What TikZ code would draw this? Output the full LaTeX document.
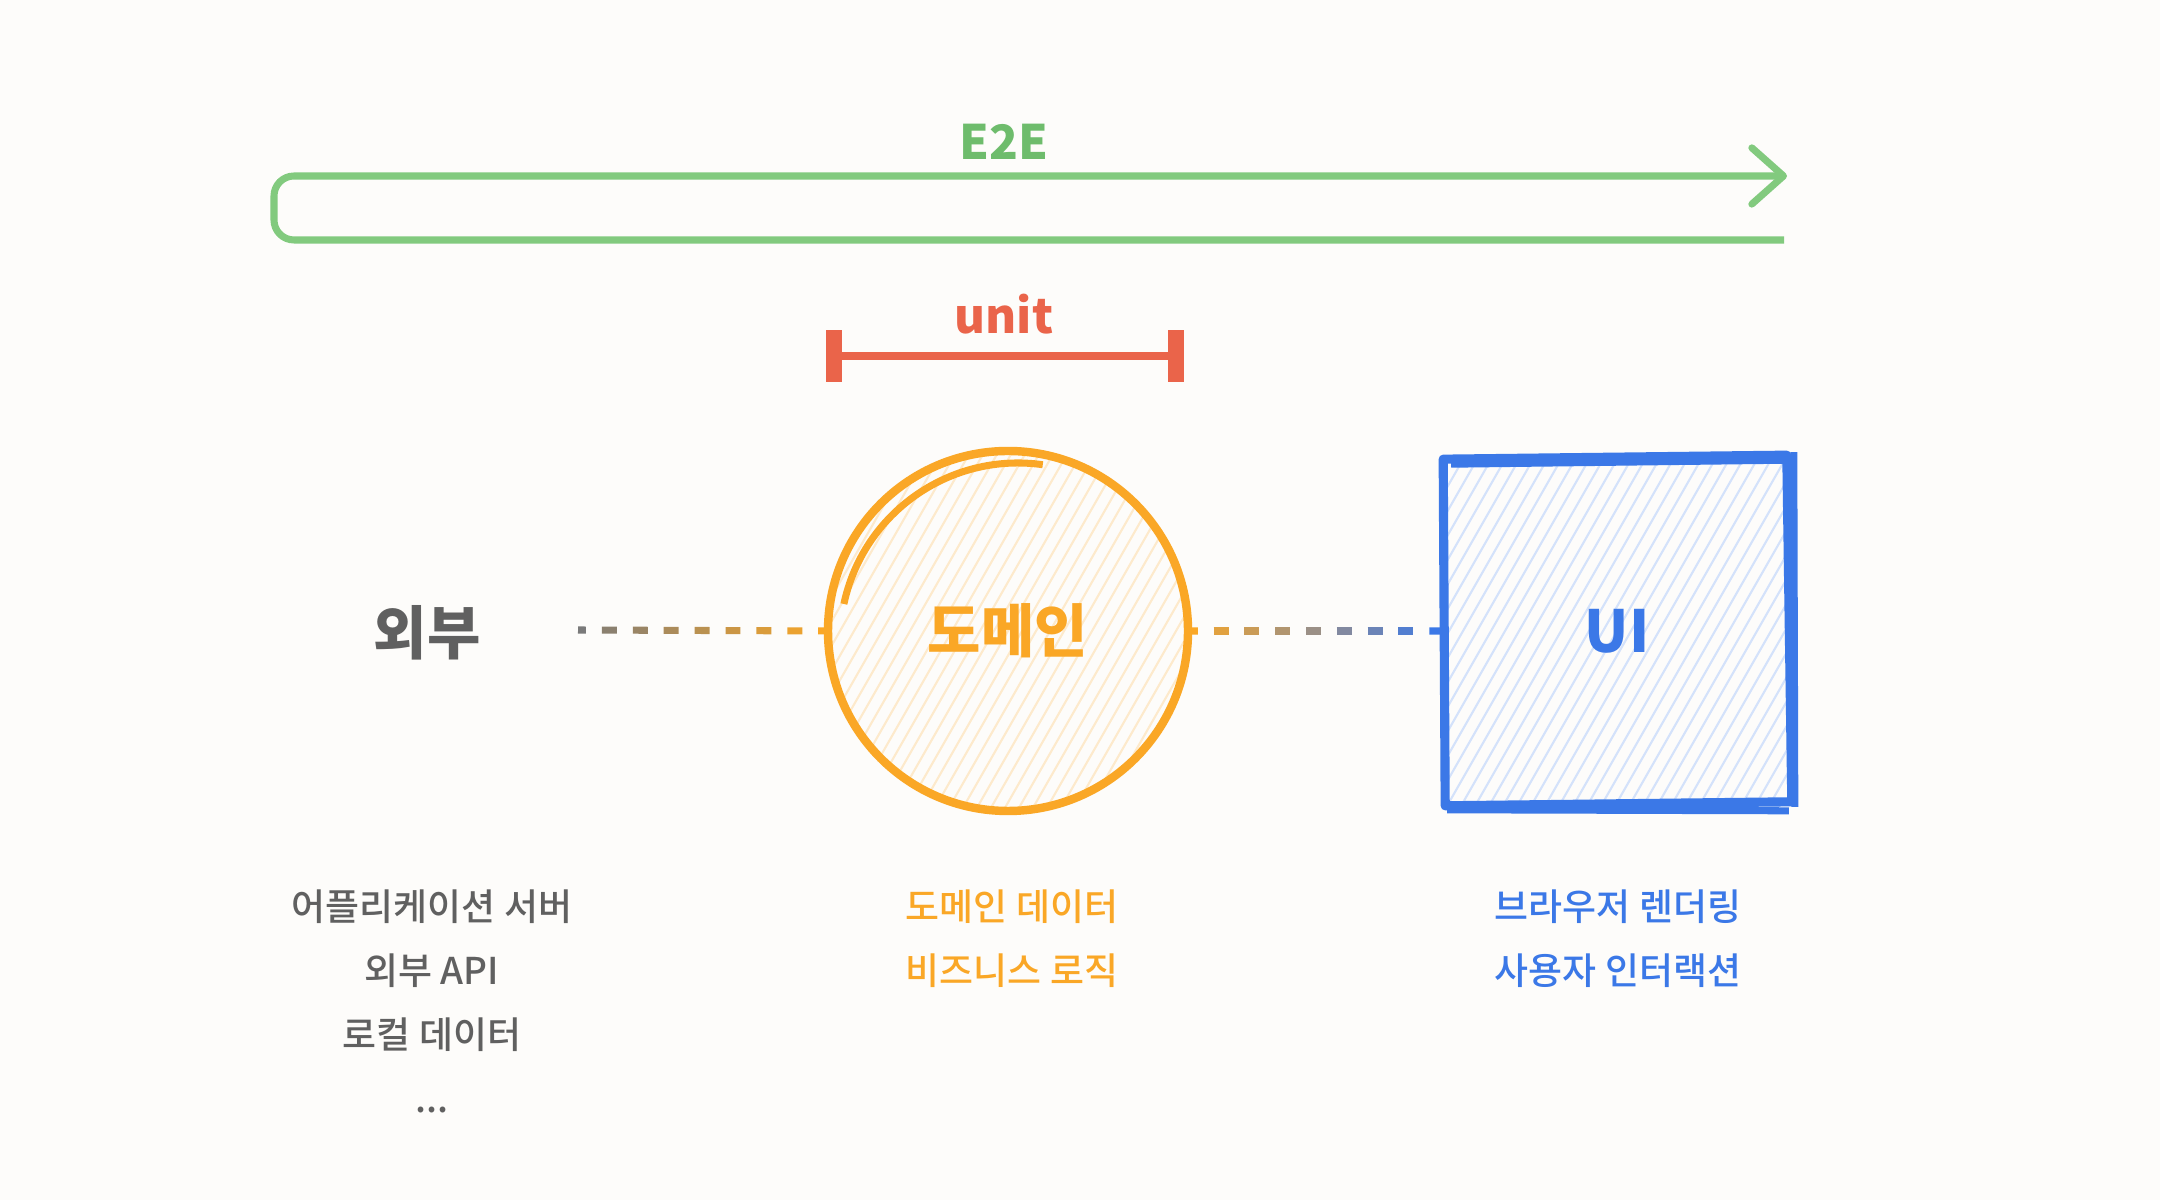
\documentclass[tikz,border=0pt]{standalone}
\usepackage{fontspec}
\setmainfont{Noto Sans CJK KR}
\newfontfamily\krmed{Noto Sans CJK KR Medium}
\usetikzlibrary{arrows.meta, positioning, calc}

\definecolor{BgCol}{RGB}{253,252,250}
\definecolor{E2EGreen}{RGB}{130,202,126}
\definecolor{E2EText}{RGB}{110,188,108}
\definecolor{UnitRed}{RGB}{234,100,74}
\definecolor{DomOrange}{RGB}{250,167,38}
\definecolor{DomHatch}{RGB}{253,234,204}
\definecolor{UIBlue}{RGB}{59,120,231}
\definecolor{UIHatch}{RGB}{212,226,250}
\definecolor{ExtGray}{RGB}{96,96,96}
\definecolor{DashGray}{RGB}{122,122,122}

\tikzset{
  bigtext/.style={font=\fontsize{16.5}{20}\selectfont\bfseries, inner sep=0pt},
  toptext/.style={font=\fontsize{13.5}{16}\selectfont\bfseries, inner sep=0pt},
  listtext/.style={font=\krmed\fontsize{10.5}{18.2}\selectfont, align=center, inner sep=0pt, anchor=north},
  dashseg/.style={line width=2pt},
  hatchline/.style={line width=0.6pt},
}

\begin{document}
\begin{tikzpicture}[x=0.01cm, y=0.01cm]
  % background
  \fill[BgCol] (0,0) rectangle (2160,1200);
  \useasboundingbox (0,0) rectangle (2160,1200);

  % E2E bracket
  \node[toptext, text=E2EText] (e2e) at (1004,1058) {E2E};
  \coordinate (e2eS) at (1784,960);
  \coordinate (e2eE) at (1787,1024);
  \draw[E2EGreen, line width=2pt, rounded corners=2mm, -{Straight Barb[length=9pt,width=16pt,round]}]
    (e2eS) -- (274,960) -- (274,1024) -- (e2eE);

  % unit bar
  \node[toptext, text=UnitRed] (unit) at (1004,886) {unit};
  \coordinate (uL) at (834,844);
  \coordinate (uR) at (1176,844);
  \draw[UnitRed, line width=2.3pt] (uL) -- (uR);
  \fill[UnitRed] ($(uL)+(-8,-26)$) rectangle ($(uL)+(8,26)$);
  \fill[UnitRed] ($(uR)+(-8,-26)$) rectangle ($(uR)+(8,26)$);

  % domain circle
  \node[circle, minimum size=3.6cm, inner sep=0pt] (dom) at (1008,569) {};
  \begin{scope}
    \clip (dom.center) circle[radius=177];
    \foreach \k in {-420,-406,...,420}
      \draw[DomHatch, hatchline] ($(dom.center)+(\k-120,-210)$) -- ++(240,420);
  \end{scope}
  \draw[DomOrange, line width=2.4pt] (dom.center) circle[radius=180];
  \draw[DomOrange, line width=2pt] ($(dom.center)+(10,-10)$) ++(82:178) arc[start angle=82, end angle=168, radius=178];
  \node[bigtext, text=DomOrange] (domlbl) at (dom.center) {도메인};

  % UI square
  \node[rectangle, minimum size=3.46cm, inner sep=0pt] (ui) at (1617,569) {};
  \begin{scope}
    \clip (ui.south west) rectangle (ui.north east);
    \foreach \k in {-420,-406,...,420}
      \draw[UIHatch, hatchline] ($(ui.center)+(\k-120,-210)$) -- ++(240,420);
  \end{scope}
  \draw[UIBlue, line width=2.6pt, line join=round]
    ($(ui.north west)+(0,-2)$) -- ($(ui.north east)+(-4,2)$) -- ($(ui.south east)+(1,3)$)
    -- ($(ui.south west)+(2,-1)$) -- cycle;
  \draw[UIBlue, line width=2pt] ($(ui.north west)+(8,-7)$) -- ($(ui.north east)+(-2,-3)$);
  \draw[UIBlue, line width=2pt] ($(ui.north east)+(3,5)$) -- ($(ui.south east)+(4,-2)$);
  \draw[UIBlue, line width=2pt] ($(ui.south west)+(4,-5)$) -- ($(ui.south east)+(-2,-6)$);
  \node[bigtext, text=UIBlue] (uilbl) at (ui.center) {UI};

  % external
  \node[bigtext, text=ExtGray] (ext) at (427,567) {외부};
  \coordinate (extR) at (578,570);

  % dashed links
  \foreach \i in {0,...,8} {
    \pgfmathsetmacro\ta{max(0,(31*\i-7)/250)}
    \pgfmathsetmacro\tb{min(1,(31*\i+8)/250)}
    \pgfmathtruncatemacro\mix{100-12.5*\i}
    \draw[dashseg, DashGray!\mix!DomOrange] ($(extR)!\ta!(dom.west)$) -- ($(extR)!\tb!(dom.west)$);
  }
  \foreach \i in {0,...,8} {
    \pgfmathsetmacro\ta{max(0,(31*\i-6)/256)}
    \pgfmathsetmacro\tb{min(1,(31*\i+9)/256)}
    \pgfmathtruncatemacro\mix{100-12.5*\i}
    \draw[dashseg, DomOrange!\mix!UIBlue] ($(dom.east)!\ta!(ui.west)$) -- ($(dom.east)!\tb!(ui.west)$);
  }

  % lists
  \node[listtext, text=ExtGray] (extlist) at (432,311) {어플리케이션 서버\\외부 API\\로컬 데이터\\...};
  \node[listtext, text=DomOrange] (domlist) at (1012,311) {도메인 데이터\\비즈니스 로직};
  \node[listtext, text=UIBlue] (uilist) at (1618,311) {브라우저 렌더링\\사용자 인터랙션};
\end{tikzpicture}
\end{document}
